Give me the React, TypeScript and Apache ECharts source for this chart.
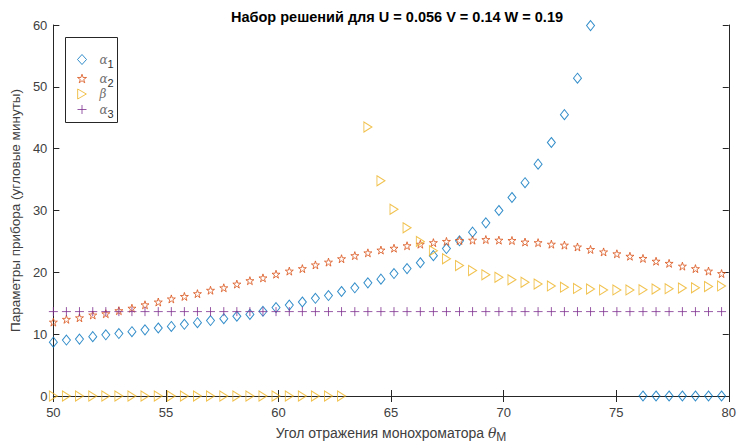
import React, { useEffect, useRef } from "react";
import * as echarts from "echarts";

// Monochromator reflection angle θ_M (degrees)
const xs = [
  50.0, 50.58, 51.16, 51.75, 52.33, 52.91, 53.49, 54.07, 54.66, 55.24,
  55.82, 56.4, 56.98, 57.57, 58.15, 58.73, 59.31, 59.89, 60.48, 61.06,
  61.64, 62.22, 62.8, 63.39, 63.97, 64.55, 65.13, 65.71, 66.3, 66.88,
  67.46, 68.04, 68.62, 69.21, 69.79, 70.37, 70.95, 71.53, 72.12, 72.7,
  73.28, 73.86, 74.44, 75.03, 75.61, 76.19, 76.77, 77.35, 77.94, 78.52,
  79.1, 79.68,
];

const alpha1: (number | null)[] = [
  8.7, 9.05, 9.2, 9.6, 9.9, 10.1, 10.4, 10.7, 11.0, 11.25,
  11.6, 11.85, 12.2, 12.5, 12.9, 13.2, 13.7, 14.3, 14.7, 15.2,
  15.8, 16.25, 16.9, 17.5, 18.3, 18.9, 19.8, 20.6, 21.55, 22.7,
  23.85, 25.1, 26.5, 28.0, 30.0, 32.1, 34.5, 37.5, 41.0, 45.5,
  51.4, 59.9, null, null, null, 0, 0, 0, 0, 0,
  0, 0,
];

const alpha2: (number | null)[] = [
  11.95, 12.4, 12.65, 13.1, 13.3, 13.8, 14.2, 14.75, 15.2, 15.7,
  16.1, 16.55, 17.1, 17.5, 18.1, 18.65, 19.1, 19.7, 20.2, 20.6,
  21.2, 21.65, 22.2, 22.7, 23.15, 23.6, 23.9, 24.3, 24.55, 24.8,
  25.0, 25.15, 25.2, 25.3, 25.2, 25.15, 24.9, 24.8, 24.55, 24.4,
  24.1, 23.7, 23.3, 23.0, 22.6, 22.25, 21.8, 21.45, 21.0, 20.6,
  20.2, 19.8,
];

const beta: (number | null)[] = [
  0, 0, 0, 0, 0, 0, 0, 0, 0, 0,
  0, 0, 0, 0, 0, 0, 0, 0, 0, 0,
  0, 0, 0, null, 43.5, 34.8, 30.2, 27.2, 25.0, 23.5,
  22.2, 21.1, 20.3, 19.6, 19.2, 18.8, 18.4, 18.1, 17.8, 17.6,
  17.4, 17.3, 17.15, 17.15, 17.15, 17.2, 17.3, 17.35, 17.45, 17.5,
  17.7, 17.8,
];

const alpha3: (number | null)[] = [
  13.65, 13.65, 13.65, 13.65, 13.65, 13.65, 13.65, 13.65, 13.65, 13.65,
  13.65, 13.65, 13.65, 13.65, 13.65, 13.65, 13.65, 13.65, 13.65, 13.65,
  13.65, 13.65, 13.65, 13.65, 13.65, 13.65, 13.65, 13.65, 13.65, 13.65,
  13.65, 13.65, 13.65, 13.65, 13.65, 13.65, 13.65, 13.65, 13.65, 13.65,
  13.65, 13.65, 13.65, 13.65, 13.65, 13.65, 13.65, 13.65, 13.65, 13.65,
  13.65, 13.65,
];

const xTicks = { min: 50, max: 80, interval: 5 };
const yTicks = { min: 0, max: 60, interval: 10 };

const SANS = "'Liberation Sans', Arial, sans-serif";
const SERIF = "'DejaVu Serif', 'Liberation Serif', serif";
const AX = "#262626";
const TXT = "#404040";

const STAR =
  "path://M50,0L61.2,34.5L97.6,34.5L68.2,55.9L79.4,90.5L50,69.1L20.6,90.5L31.8,55.9L2.4,34.5L38.8,34.5Z";
const TRI = "path://M0,0L8.66,5L0,10Z";
const PLUS = "path://M5,0L5,10M0,5L10,5";

const seriesDefs = [
  { name: "a1", data: alpha1, color: "#0072BD", symbol: "diamond", size: [8, 10] },
  { name: "a2", data: alpha2, color: "#D95319", symbol: STAR, size: [8, 8] },
  { name: "b", data: beta, color: "#EDB120", symbol: TRI, size: [8, 10] },
  { name: "a3", data: alpha3, color: "#7E2F8E", symbol: PLUS, size: [9, 9] },
];

function pairs(vals: (number | null)[]) {
  const out: number[][] = [];
  xs.forEach((x, i) => {
    const v = vals[i];
    if (v !== null && v !== undefined) out.push([x, v]);
  });
  return out;
}

export default function App() {
  const ref = useRef<HTMLDivElement>(null);
  useEffect(() => {
    if (!ref.current) return;
    const chart = echarts.init(ref.current, null, { renderer: "svg" });
    const legendLabel: Record<string, string> = {
      a1: "{g|α}{s|1}",
      a2: "{g|α}{s|2}",
      b: "{g|β}",
      a3: "{g|α}{s|3}",
    };
    chart.setOption({
      animation: false,
      backgroundColor: "#ffffff",
      title: {
        text: "Набор решений для U = 0.056 V = 0.14 W = 0.19",
        left: 392,
        textAlign: "center",
        top: 4,
        textStyle: { fontFamily: SANS, fontSize: 14.5, fontWeight: "bold", color: "#000" },
      },
      grid: { left: 52, right: 7, top: 25, bottom: 50 },
      graphic: [
        {
          type: "rect",
          left: 65,
          top: 37,
          z: 3,
          shape: { width: 52, height: 85 },
          style: { fill: "#fff", stroke: AX, lineWidth: 1 },
        },
      ],
      legend: {
        orient: "vertical",
        left: 65,
        top: 37,
        z: 4,
        padding: [13, 0, 0, 12],
        itemGap: 0,
        itemWidth: 9,
        itemHeight: 10,
        borderWidth: 0,
        formatter: (n: string) => legendLabel[n],
        textStyle: {
          rich: {
            g: {
              fontFamily: SERIF,
              fontStyle: "italic",
              fontSize: 12,
              color: "#707070",
              padding: [0, 0, 0, 8],
              lineHeight: 16,
            },
            s: {
              fontFamily: SANS,
              fontSize: 11,
              color: "#333",
              padding: [8, 0, 0, 0],
              lineHeight: 16,
            },
          },
        },
        data: seriesDefs.map((s) => ({
          name: s.name,
          icon: s.symbol,
          itemStyle: { color: "transparent", borderColor: s.color, borderWidth: 1 },
        })),
      },
      xAxis: [
        {
          type: "value",
          ...xTicks,
          position: "bottom",
          name: "Угол отражения монохроматора {t|θ}{m|M}",
          nameLocation: "middle",
          nameGap: 27,
          nameTextStyle: {
            fontFamily: SANS,
            fontSize: 14,
            color: TXT,
            rich: {
              t: { fontFamily: SERIF, fontStyle: "italic", fontSize: 14, color: TXT },
              m: { fontFamily: SANS, fontSize: 12, color: TXT, padding: [8, 0, 0, 0] },
            },
          },
          axisLine: { lineStyle: { color: AX, width: 1 } },
          axisTick: { inside: true, length: 6, lineStyle: { color: AX } },
          axisLabel: { margin: 10, fontFamily: SANS, fontSize: 13, color: TXT },
          splitLine: { show: false },
        },
        {
          type: "value",
          ...xTicks,
          position: "top",
          axisLine: { lineStyle: { color: AX, width: 1 } },
          axisTick: { inside: true, length: 6, lineStyle: { color: AX } },
          axisLabel: { show: false },
          splitLine: { show: false },
        },
      ],
      yAxis: [
        {
          type: "value",
          ...yTicks,
          position: "left",
          name: "Параметры прибора (угловые минуты)",
          nameLocation: "middle",
          nameGap: 24,
          nameTextStyle: { fontFamily: SANS, fontSize: 13.5, color: TXT },
          axisLine: { show: true, lineStyle: { color: AX, width: 1 } },
          axisTick: { show: true, inside: true, length: 6, lineStyle: { color: AX } },
          axisLabel: { margin: 6, fontFamily: SANS, fontSize: 13, color: TXT },
          splitLine: { show: false },
        },
        {
          type: "value",
          ...yTicks,
          position: "right",
          axisLine: { show: true, lineStyle: { color: AX, width: 1 } },
          axisTick: { show: true, inside: true, length: 6, lineStyle: { color: AX } },
          axisLabel: { show: false },
          splitLine: { show: false },
        },
      ],
      series: seriesDefs.map((s) => ({
        name: s.name,
        type: "scatter",
        xAxisIndex: 0,
        yAxisIndex: 0,
        symbol: s.symbol,
        symbolSize: s.size,
        itemStyle: { color: "transparent", borderColor: s.color, borderWidth: 1 },
        emphasis: { disabled: true },
        data: pairs(s.data),
      })),
    });
    return () => chart.dispose();
  }, []);
  return (
    <div
      ref={ref}
      style={{ position: "fixed", left: 0, top: 0, width: 739, height: 448 }}
    />
  );
}
